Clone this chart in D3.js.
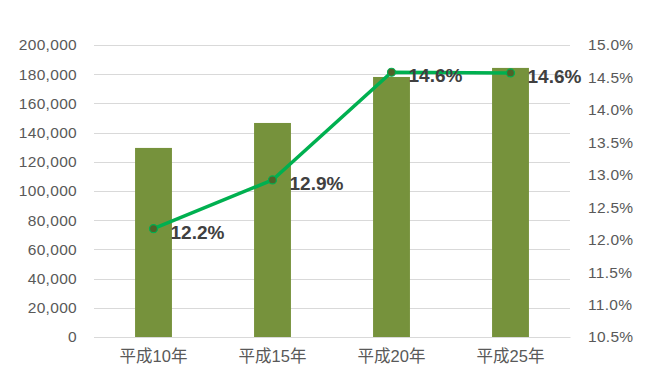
<!DOCTYPE html>
<html><head><meta charset="utf-8">
<script src="https://cdn.jsdelivr.net/npm/d3@7"></script>
<style>body{margin:0;background:#fff}svg{display:block}</style>
</head><body>
<svg id="c" width="654" height="384"></svg>
<script>
const categories = ["平成10年","平成15年","平成20年","平成25年"];
const barValues = [129500, 146600, 178100, 184300];
const lineValues = [12.17, 12.92, 14.58, 14.57];
const lineLabels = ["12.2%","12.9%","14.6%","14.6%"];
const leftTicks = [0,20000,40000,60000,80000,100000,120000,140000,160000,180000,200000];
const rightTicks = [10.5,11.0,11.5,12.0,12.5,13.0,13.5,14.0,14.5,15.0];

const svg = d3.select("#c");
const m = {l:94, r:570, t:45, b:337};
const x = d3.scaleBand().domain(categories).range([m.l, m.r]).paddingInner(0.69).paddingOuter(0.345);
const yL = d3.scaleLinear().domain([0,200000]).range([m.b, m.t]);
const yR = d3.scaleLinear().domain([10.5,15.0]).range([m.b, m.t]);
const font = "'Liberation Sans', 'Noto Sans CJK JP', sans-serif";

// grid
svg.append("g").selectAll("line").data(leftTicks).join("line")
  .attr("x1", m.l).attr("x2", m.r)
  .attr("y1", d=>Math.round(yL(d))+0.5).attr("y2", d=>Math.round(yL(d))+0.5)
  .attr("stroke","#d9d9d9").attr("stroke-width",1);

// left axis
const gl = svg.append("g").attr("transform",`translate(${m.l-17},0)`)
  .call(d3.axisLeft(yL).tickValues(leftTicks).tickFormat(d3.format(",")).tickSize(0).tickPadding(0));
gl.select(".domain").remove();
gl.selectAll("text").attr("fill","#595959").style("font-family",font).style("font-size","15.5px").style("letter-spacing","0.3px");

// right axis
const gr = svg.append("g").attr("transform",`translate(${m.r+18},0)`)
  .call(d3.axisRight(yR).tickValues(rightTicks).tickFormat(d=>d.toFixed(1)+"%").tickSize(0).tickPadding(0));
gr.select(".domain").remove();
gr.selectAll("text").attr("fill","#595959").style("font-family",font).style("font-size","15.5px").style("letter-spacing","0.3px");

// bars
svg.append("g").selectAll("rect").data(barValues).join("rect")
  .attr("x",(d,i)=>x(categories[i])).attr("width",x.bandwidth())
  .attr("y",d=>yL(d)).attr("height",d=>yL(0)-yL(d))
  .attr("fill","#76923c");

// x axis
const gx = svg.append("g").attr("transform",`translate(0,${m.b})`)
  .call(d3.axisBottom(x).tickSize(0).tickPadding(13));
gx.select(".domain").attr("stroke","#d9d9d9");
gx.selectAll("text").attr("fill","#595959").style("font-family",font).style("font-size","16.5px");

// line
const cx = i => x(categories[i]) + x.bandwidth()/2;
svg.append("path").datum(lineValues)
  .attr("d", d3.line().x((d,i)=>cx(i)).y(d=>yR(d)))
  .attr("fill","none").attr("stroke","#00b050").attr("stroke-width",3.5);
svg.append("g").selectAll("circle").data(lineValues).join("circle")
  .attr("cx",(d,i)=>cx(i)).attr("cy",d=>yR(d)).attr("r",4)
  .attr("fill","#4f6228").attr("stroke","#00b050").attr("stroke-width",1.2);
svg.append("g").selectAll("text").data(lineValues).join("text")
  .attr("x",(d,i)=>cx(i)+17).attr("y",d=>yR(d)+10)
  .text((d,i)=>lineLabels[i])
  .attr("fill","#404040").style("font-family",font).style("font-size","19px").style("font-weight","bold");
</script>
</body></html>
